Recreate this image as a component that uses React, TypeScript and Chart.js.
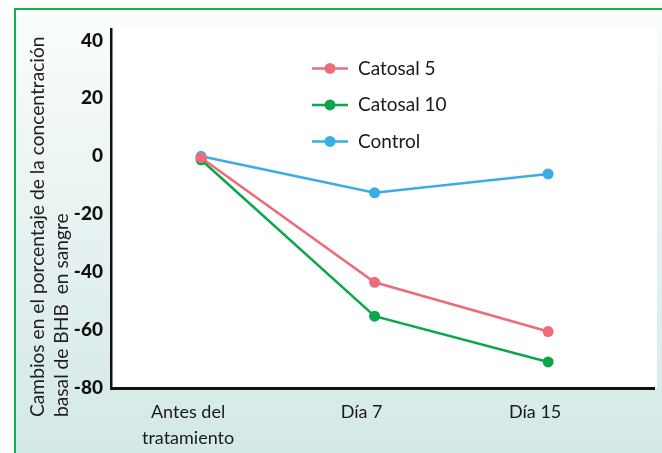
import React, { useEffect, useRef } from "react";
import { Chart, registerables } from "chart.js";

Chart.register(...registerables);

const categories: (string | string[])[] = [["Antes del", "tratamiento"], "Día 7", "Día 15"];
const catosal5 = [-0.5, -43.5, -60.5];
const catosal10 = [-1.2, -55.2, -71.0];
const control = [0, -12.6, -6.1];
const seriesNames = ["Catosal 5", "Catosal 10", "Control"];
const seriesColors = ["#ee6b7a", "#0aa84a", "#3aaee2"];
const yTicks = [-80, -60, -40, -20, 0, 20, 40];
const yTitle = ["Cambios en el porcentaje de la concentración", "basal de BHB  en sangre"];

const FONT = "Lato, 'Open Sans', sans-serif";

const bgPlugin = {
  id: "plotBg",
  beforeDraw(chart: any) {
    const { ctx, chartArea } = chart;
    ctx.save();
    ctx.fillStyle = "#ffffff";
    ctx.fillRect(chartArea.left, chartArea.top, chartArea.right - chartArea.left + 3, chartArea.bottom - chartArea.top);
    ctx.restore();
  },
};

const titlePlugin = {
  id: "yTitle",
  afterDraw(chart: any) {
    const { ctx, chartArea } = chart;
    ctx.save();
    ctx.fillStyle = "#231f20";
    ctx.font = `19.2px ${FONT}`;
    ctx.textAlign = "left";
    ctx.textBaseline = "middle";
    const xs = [22, 46];
    yTitle.forEach((line, i) => {
      ctx.save();
      ctx.translate(xs[i], chartArea.bottom + 29);
      ctx.rotate(-Math.PI / 2);
      ctx.fillText(line, 0, 0);
      ctx.restore();
    });
    ctx.restore();
  },
};

const legendPlugin = {
  id: "innerLegend",
  afterDraw(chart: any) {
    const { ctx, chartArea } = chart;
    ctx.save();
    const x0 = chartArea.left + 201;
    const y0 = chartArea.top + 39;
    chart.data.datasets.forEach((ds: any, i: number) => {
      const y = y0 + i * 36.5;
      ctx.strokeStyle = ds.borderColor;
      ctx.lineWidth = 2.5;
      ctx.beginPath();
      ctx.moveTo(x0, y);
      ctx.lineTo(x0 + 36, y);
      ctx.stroke();
      ctx.fillStyle = ds.borderColor;
      ctx.beginPath();
      ctx.arc(x0 + 18, y, 5.5, 0, Math.PI * 2);
      ctx.fill();
      ctx.fillStyle = "#1a1a1a";
      ctx.font = `19px ${FONT}`;
      ctx.textAlign = "left";
      ctx.textBaseline = "middle";
      ctx.fillText(ds.label, x0 + 46, y);
    });
    ctx.restore();
  },
};

export default function App() {
  const ref = useRef<HTMLCanvasElement>(null);
  useEffect(() => {
    if (!ref.current) return;
    const values = [catosal5, catosal10, control];
    const chart = new Chart(ref.current, {
      type: "line",
      data: {
        datasets: values.map((vals, i) => ({
          label: seriesNames[i],
          data: vals.map((v, j) => ({ x: j, y: v })),
          borderColor: seriesColors[i],
          backgroundColor: seriesColors[i],
          pointBackgroundColor: seriesColors[i],
          pointBorderWidth: 0,
          pointRadius: 5.5,
          borderWidth: 2.5,
          tension: 0,
        })),
      },
      options: {
        animation: false,
        responsive: false,
        maintainAspectRatio: false,
        layout: { padding: { top: 18, right: 8, left: 0, bottom: 0 } },
        plugins: { legend: { display: false }, tooltip: { enabled: false } },
        scales: {
          x: {
            type: "linear",
            min: -0.519,
            max: 2.61,
            grid: { display: false, drawTicks: false },
            border: { display: true, color: "#111", width: 3 },
            afterBuildTicks: (scale: any) => {
              scale.ticks = categories.map((_, i) => ({ value: i }));
            },
            afterFit: (scale: any) => {
              scale.height = 65;
            },
            ticks: {
              autoSkip: false,
              maxRotation: 0,
              padding: 11,
              labelOffset: -13,
              color: "#1a1a1a",
              font: { family: FONT, size: 18, lineHeight: 1.45 },
              callback: (v: any) => categories[v as number] as any,
            },
          },
          y: {
            min: -80,
            max: 43.8,
            grid: { display: false, drawTicks: false },
            border: { display: true, color: "#111", width: 2.5 },
            afterBuildTicks: (scale: any) => {
              scale.ticks = yTicks.map((v) => ({ value: v }));
            },
            afterFit: (scale: any) => {
              scale.width = 95;
            },
            ticks: {
              padding: 8,
              color: "#111",
              font: { family: FONT, size: 19, weight: "900" },
            },
          },
        },
      },
      plugins: [bgPlugin, titlePlugin, legendPlugin],
    });
    return () => chart.destroy();
  }, []);

  return (
    <div
      style={{
        position: "fixed",
        left: 14,
        top: 8,
        right: 0,
        bottom: 0,
        boxSizing: "border-box",
        borderTop: "2px solid #16b04b",
        borderLeft: "2px solid #16b04b",
        background: "linear-gradient(to bottom, #fbfdfd 0%, #eaf4f3 40%, #d3e9e7 100%)",
      }}
    >
      <canvas ref={ref} width={646} height={443} style={{ display: "block", width: 646, height: 443 }} />
    </div>
  );
}
